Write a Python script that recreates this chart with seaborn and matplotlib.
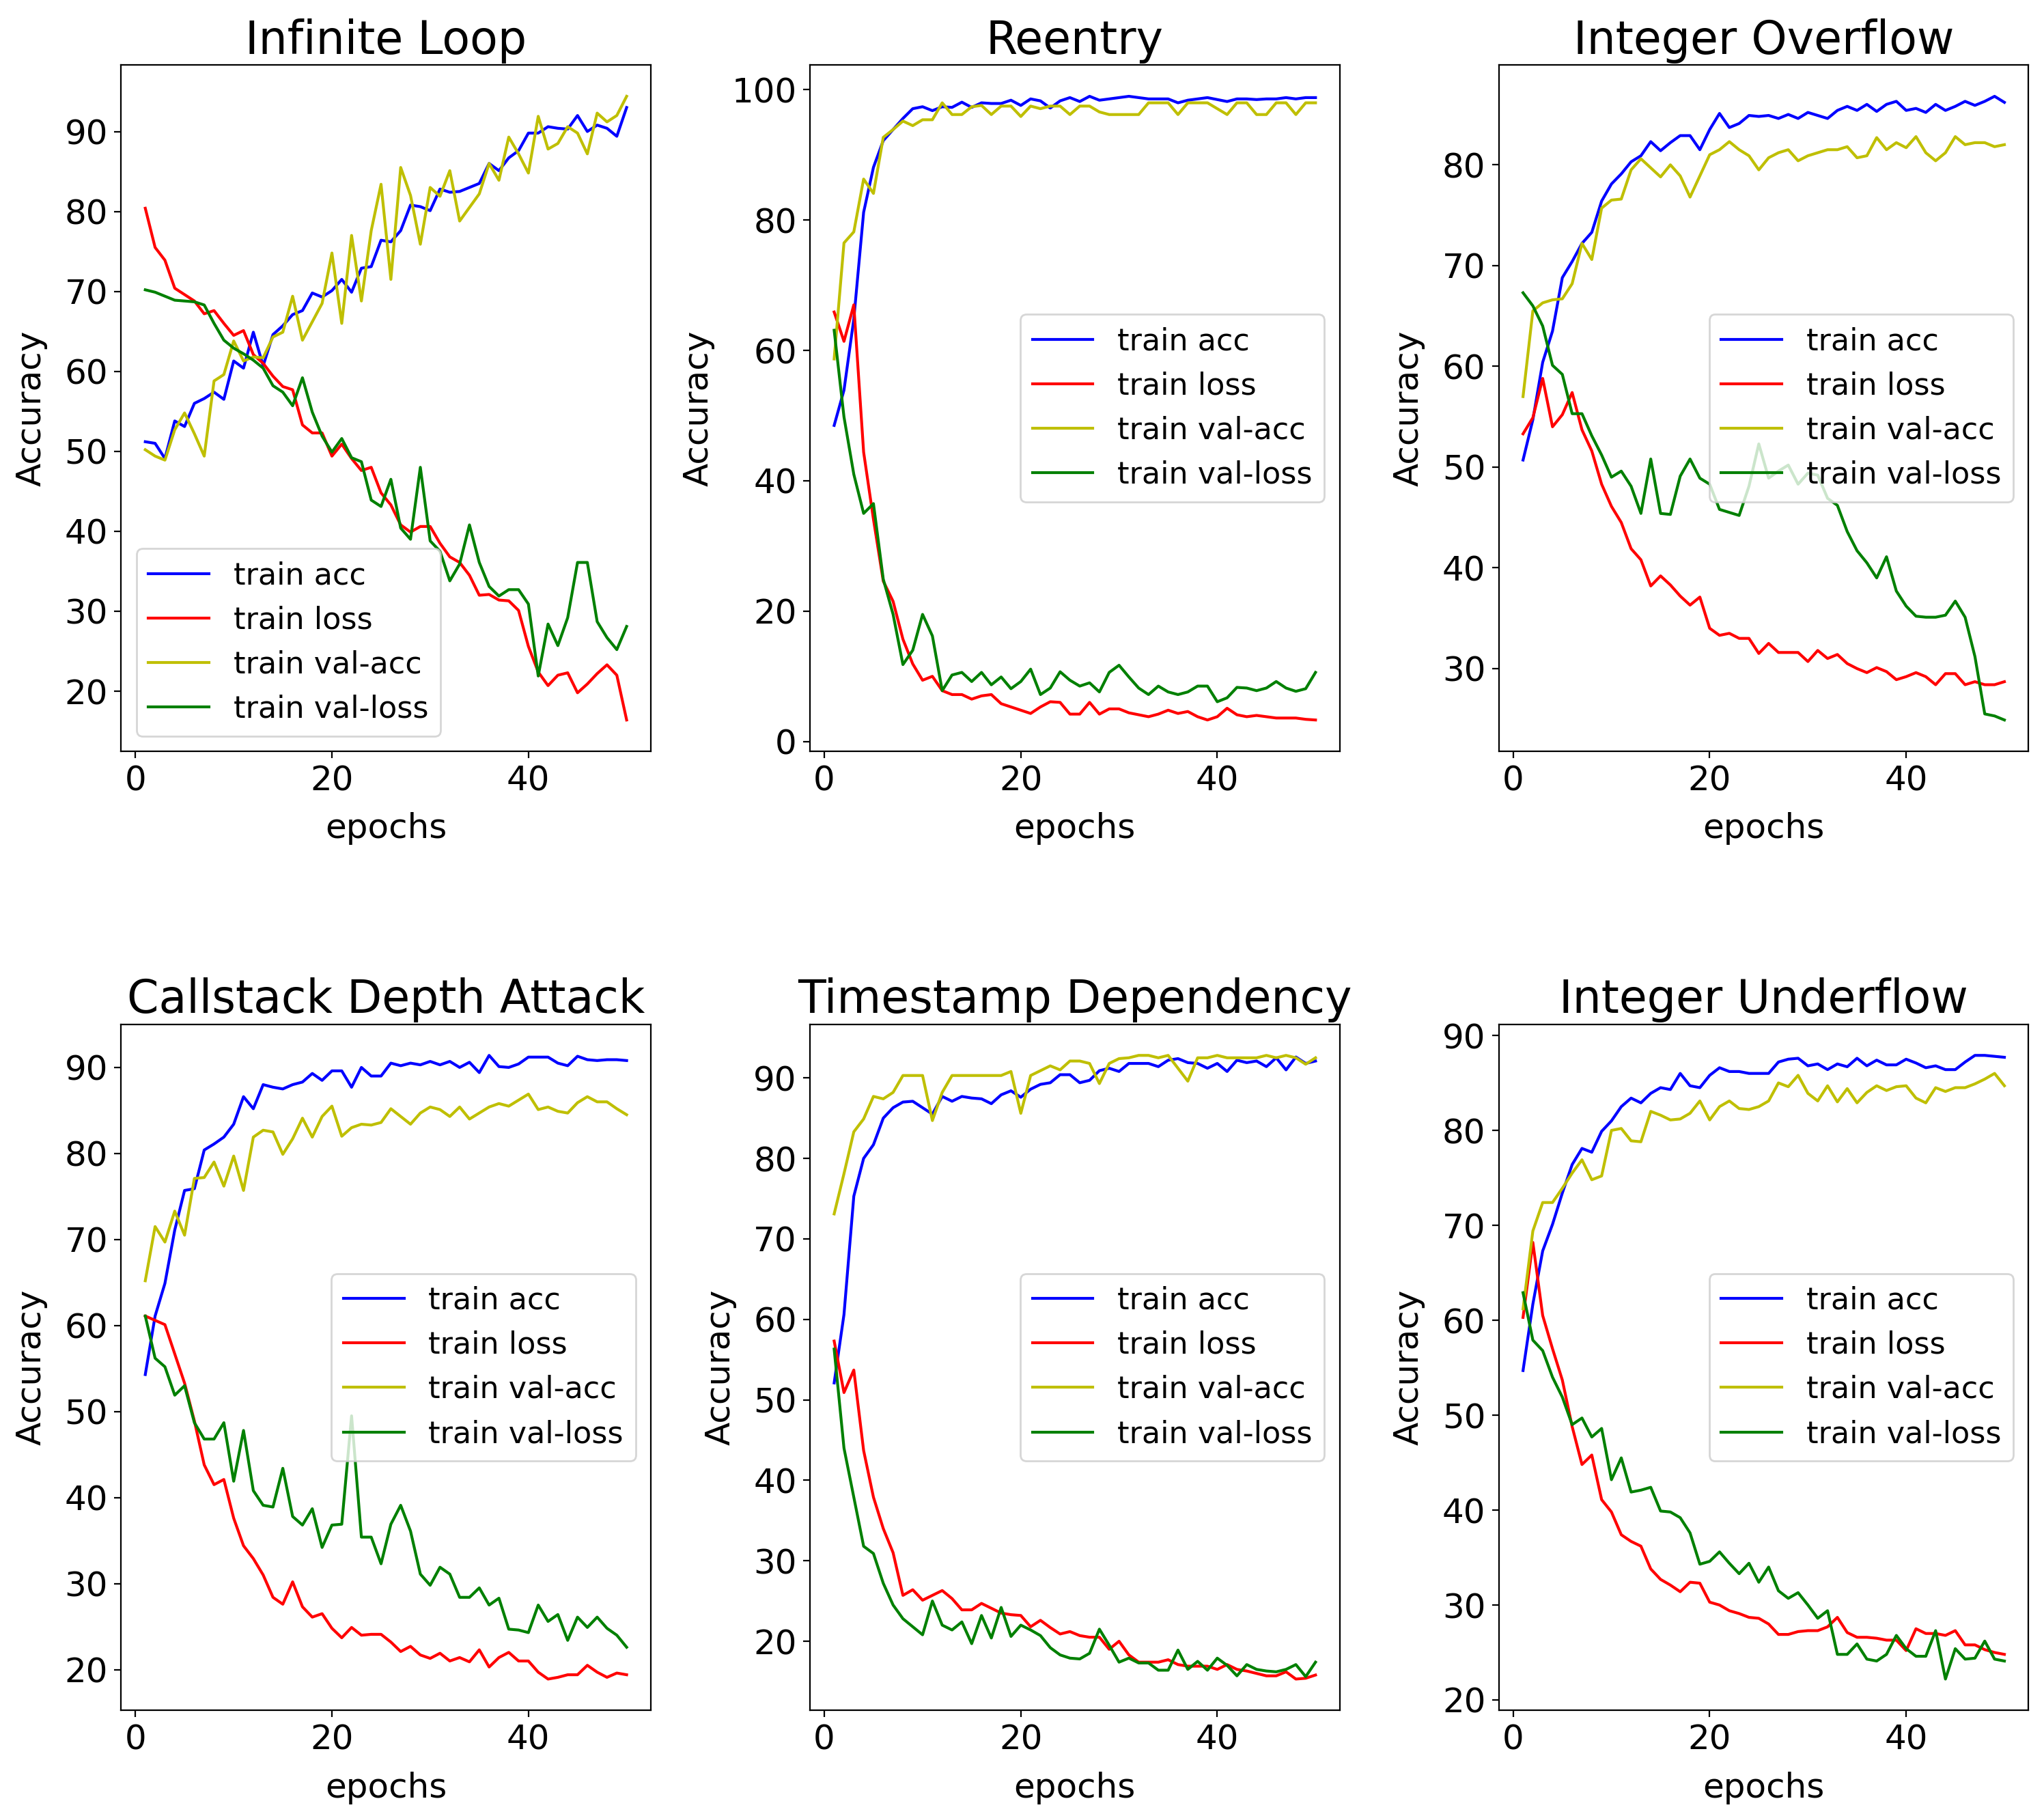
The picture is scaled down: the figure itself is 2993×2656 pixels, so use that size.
import matplotlib
matplotlib.use("Agg")
import matplotlib.pyplot as plt
import seaborn as sns

epochs = list(range(1, 51))

titles = ["Infinite Loop", "Reentry", "Integer Overflow",
          "Callstack Depth Attack", "Timestamp Dependency", "Integer Underflow"]
series_labels = ["train acc", "train loss", "train val-acc", "train val-loss"]

# Infinite Loop
il_acc = [51.2, 51.0, 49.1, 53.8, 53.1, 56.0, 56.6, 57.4, 56.5, 61.3,
          60.4, 64.9, 60.7, 64.6, 65.7, 67.1, 67.6, 69.8, 69.3, 70.1,
          71.5, 69.9, 72.9, 73.1, 76.4, 76.2, 77.6, 80.8, 80.6, 80.1,
          82.8, 82.4, 82.5, 83.0, 83.5, 86.0, 85.1, 86.7, 87.6, 89.8,
          89.8, 90.6, 90.4, 90.3, 92.0, 90.0, 90.8, 90.4, 89.4, 93.0]
il_loss = [80.4, 75.5, 73.9, 70.4, 69.6, 68.8, 67.2, 67.6, 66.0, 64.5,
           65.1, 62.1, 61.0, 59.4, 58.1, 57.7, 53.3, 52.3, 52.3, 49.4,
           50.9, 49.1, 47.6, 48.0, 44.8, 43.3, 40.8, 39.9, 40.6, 40.6,
           38.5, 36.8, 36.1, 34.5, 32.0, 32.1, 31.4, 31.3, 30.1, 25.6,
           22.4, 20.7, 22.0, 22.3, 19.8, 20.9, 22.2, 23.3, 22.0, 16.4]
il_val_acc = [50.2, 49.4, 48.9, 52.7, 54.8, 52.2, 49.4, 58.8, 59.6, 63.8,
              61.3, 61.8, 61.7, 64.3, 64.9, 69.4, 63.9, 66.2, 68.5, 74.8,
              66.0, 77.0, 68.8, 77.6, 83.4, 71.5, 85.5, 82.0, 75.9, 83.0,
              81.9, 85.1, 78.8, 80.5, 82.2, 86.0, 83.9, 89.3, 87.2, 84.8,
              91.9, 87.8, 88.5, 90.6, 89.8, 87.2, 92.3, 91.2, 92.0, 94.4]
il_val_loss = [70.2, 69.9, 69.4, 68.9, 68.8, 68.7, 68.3, 66.0, 63.9, 62.9,
               62.2, 61.4, 60.4, 58.2, 57.4, 55.7, 59.2, 54.9, 51.9, 49.9,
               51.6, 49.2, 48.7, 43.9, 43.1, 46.5, 40.4, 39.0, 48.0, 38.8,
               37.5, 33.8, 35.9, 40.8, 36.1, 33.1, 31.9, 32.7, 32.7, 30.9,
               21.9, 28.4, 25.7, 29.2, 36.1, 36.1, 28.7, 26.7, 25.2, 28.1]

# Reentry
re_acc = [48.5, 53.9, 64.8, 81.2, 88.1, 92.2, 93.9, 95.6, 97.1, 97.4,
          96.8, 97.4, 97.3, 98.1, 97.3, 98.0, 97.9, 97.9, 98.4, 97.6,
          98.6, 98.3, 97.2, 98.3, 98.8, 98.2, 99.0, 98.4, 98.6, 98.8,
          99.0, 98.8, 98.6, 98.6, 98.6, 98.0, 98.4, 98.6, 98.8, 98.5,
          98.2, 98.6, 98.6, 98.5, 98.6, 98.6, 98.8, 98.6, 98.8, 98.8]
re_loss = [65.9, 61.4, 67.0, 44.4, 34.1, 24.6, 21.5, 15.7, 11.9, 9.4,
           10.0, 7.8, 7.2, 7.2, 6.5, 7.0, 7.2, 5.8, 5.3, 4.8,
           4.3, 5.3, 6.1, 6.0, 4.2, 4.2, 6.0, 4.2, 5.0, 5.0,
           4.4, 4.1, 3.8, 4.2, 4.8, 4.3, 4.6, 3.8, 3.3, 3.8,
           5.1, 4.1, 3.8, 4.0, 3.8, 3.6, 3.6, 3.6, 3.4, 3.3]
re_val_acc = [58.7, 76.5, 78.2, 86.3, 84.1, 92.7, 93.9, 95.2, 94.5, 95.4,
              95.4, 98.0, 96.2, 96.2, 97.4, 97.6, 96.2, 97.5, 97.5, 95.9,
              97.5, 97.1, 97.5, 97.5, 96.2, 97.5, 97.5, 96.6, 96.2, 96.2,
              96.2, 96.2, 98.0, 98.0, 98.0, 96.2, 98.0, 98.0, 98.0, 97.1,
              96.2, 98.0, 98.0, 96.2, 96.2, 98.0, 98.0, 96.2, 98.0, 98.0]
re_val_loss = [63.1, 49.8, 41.0, 35.0, 36.5, 24.9, 19.5, 11.8, 14.0, 19.5,
               16.2, 7.8, 10.2, 10.6, 9.2, 10.6, 8.7, 9.9, 8.1, 9.2,
               11.1, 7.2, 8.2, 10.7, 9.4, 8.5, 9.0, 7.6, 10.6, 11.7,
               9.9, 8.2, 7.2, 8.5, 7.6, 7.2, 7.6, 8.5, 8.5, 6.1,
               6.7, 8.3, 8.2, 7.8, 8.2, 9.2, 8.2, 7.7, 8.1, 10.6]

# Integer Overflow
io_acc = [50.7, 54.7, 60.4, 63.5, 68.8, 70.4, 72.2, 73.3, 76.4, 78.1,
          79.1, 80.3, 80.9, 82.3, 81.4, 82.2, 82.9, 82.9, 81.5, 83.5,
          85.1, 83.7, 84.1, 84.9, 84.8, 84.9, 84.6, 85.0, 84.6, 85.2,
          84.9, 84.6, 85.4, 85.8, 85.4, 86.0, 85.3, 86.0, 86.3, 85.4,
          85.6, 85.2, 86.0, 85.4, 85.8, 86.3, 85.9, 86.3, 86.8, 86.2]
io_loss = [53.3, 54.9, 58.8, 54.0, 55.2, 57.4, 53.7, 51.6, 48.3, 46.1,
           44.5, 41.9, 40.8, 38.2, 39.2, 38.3, 37.2, 36.3, 37.1, 34.0,
           33.3, 33.5, 33.0, 33.0, 31.5, 32.5, 31.6, 31.6, 31.6, 30.7,
           31.8, 31.0, 31.4, 30.5, 30.0, 29.6, 30.1, 29.7, 28.9, 29.2,
           29.6, 29.2, 28.4, 29.5, 29.5, 28.4, 28.7, 28.4, 28.4, 28.7]
io_val_acc = [57.0, 65.5, 66.3, 66.6, 66.7, 68.2, 72.2, 70.6, 75.7, 76.5,
              76.6, 79.5, 80.6, 79.7, 78.8, 80.0, 78.9, 76.8, 78.9, 81.0,
              81.5, 82.3, 81.5, 80.9, 79.5, 80.7, 81.2, 81.5, 80.4, 80.9,
              81.2, 81.5, 81.5, 81.8, 80.7, 80.9, 82.7, 81.5, 82.2, 81.7,
              82.8, 81.2, 80.4, 81.2, 82.8, 82.0, 82.2, 82.2, 81.8, 82.0]
io_val_loss = [67.3, 66.0, 64.0, 60.1, 59.2, 55.3, 55.3, 53.1, 51.2, 49.0,
               49.6, 48.1, 45.4, 50.8, 45.4, 45.3, 49.1, 50.8, 48.9, 48.3,
               45.8, 45.5, 45.2, 48.1, 52.3, 48.9, 49.6, 50.2, 48.3, 49.4,
               49.2, 46.9, 46.2, 43.6, 41.7, 40.5, 39.0, 41.1, 37.7, 36.2,
               35.2, 35.1, 35.1, 35.3, 36.7, 35.1, 31.2, 25.5, 25.3, 24.9]

# Callstack Depth Attack
cd_acc = [54.3, 61.1, 64.9, 71.1, 75.7, 75.9, 80.4, 81.1, 81.9, 83.4,
          86.6, 85.2, 88.0, 87.7, 87.5, 88.0, 88.3, 89.3, 88.5, 89.6,
          89.6, 87.7, 90.0, 89.0, 89.0, 90.5, 90.2, 90.5, 90.3, 90.7,
          90.3, 90.7, 90.0, 90.6, 89.4, 91.4, 90.1, 90.0, 90.4, 91.2,
          91.2, 91.2, 90.5, 90.2, 91.3, 90.9, 90.8, 90.9, 90.9, 90.8]
cd_loss = [61.1, 60.6, 60.1, 56.7, 53.3, 48.9, 43.8, 41.5, 42.1, 37.6,
           34.4, 32.9, 31.0, 28.4, 27.6, 30.2, 27.3, 26.1, 26.5, 24.8,
           23.7, 24.9, 24.0, 24.1, 24.1, 23.2, 22.1, 22.7, 21.7, 21.3,
           21.9, 21.0, 21.4, 20.9, 22.3, 20.3, 21.4, 22.0, 21.0, 21.0,
           19.7, 18.9, 19.1, 19.4, 19.4, 20.5, 19.7, 19.1, 19.6, 19.4]
cd_val_acc = [65.2, 71.5, 69.7, 73.3, 70.5, 77.1, 77.2, 79.0, 76.2, 79.7,
              75.7, 81.9, 82.7, 82.5, 79.9, 81.7, 84.1, 81.9, 84.3, 85.5,
              82.0, 83.0, 83.4, 83.3, 83.6, 85.2, 84.3, 83.4, 84.7, 85.4,
              85.1, 84.3, 85.4, 84.0, 84.7, 85.4, 85.8, 85.5, 86.2, 86.9,
              85.1, 85.4, 84.9, 84.7, 85.9, 86.6, 86.0, 86.0, 85.2, 84.5]
cd_val_loss = [61.1, 56.2, 55.2, 51.9, 53.0, 48.7, 46.8, 46.8, 48.7, 41.9,
               47.8, 40.8, 39.1, 38.9, 43.4, 37.8, 36.8, 38.7, 34.2, 36.8,
               36.9, 49.5, 35.4, 35.4, 32.3, 36.9, 39.1, 36.1, 31.1, 29.8,
               31.9, 31.1, 28.4, 28.4, 29.5, 27.5, 28.3, 24.7, 24.6, 24.3,
               27.5, 25.6, 26.4, 23.4, 26.1, 24.9, 26.1, 24.8, 24.0, 22.6]

# Timestamp Dependency
td_acc = [52.1, 60.6, 75.3, 80.0, 81.7, 85.0, 86.3, 87.0, 87.1, 86.3,
          85.5, 87.7, 87.1, 87.7, 87.5, 87.4, 86.8, 87.9, 88.4, 87.6,
          88.6, 89.2, 89.4, 90.4, 90.4, 89.4, 89.7, 90.9, 91.2, 90.8,
          91.8, 91.8, 91.8, 91.4, 92.2, 92.4, 91.9, 91.8, 91.2, 91.8,
          90.8, 92.2, 91.9, 92.1, 91.4, 92.5, 91.0, 92.6, 91.8, 92.1]
td_loss = [57.3, 50.9, 53.7, 43.7, 37.9, 34.0, 31.0, 25.7, 26.4, 25.1,
           25.7, 26.3, 25.3, 23.9, 23.9, 24.7, 24.1, 23.5, 23.3, 23.2,
           21.8, 22.6, 21.7, 20.9, 21.2, 20.7, 20.5, 20.5, 19.0, 20.0,
           18.3, 17.4, 17.4, 17.4, 17.7, 17.1, 16.9, 16.9, 16.9, 16.5,
           17.1, 16.5, 16.3, 16.0, 15.7, 15.7, 16.2, 15.3, 15.4, 15.8]
td_val_acc = [73.1, 78.1, 83.3, 84.9, 87.7, 87.4, 88.2, 90.3, 90.3, 90.3,
              84.7, 88.2, 90.3, 90.3, 90.3, 90.3, 90.3, 90.3, 90.8, 85.6,
              90.3, 90.9, 91.5, 91.0, 92.1, 92.1, 91.8, 89.3, 91.8, 92.4,
              92.5, 92.8, 92.8, 92.5, 92.8, 91.2, 89.6, 92.5, 92.5, 92.8,
              92.5, 92.5, 92.5, 92.5, 92.8, 92.5, 92.8, 92.5, 91.7, 92.5]
td_val_loss = [56.3, 44.0, 37.9, 31.8, 30.9, 27.2, 24.5, 22.8, 21.8, 20.8,
               25.0, 22.0, 21.4, 22.4, 19.7, 23.2, 20.4, 24.2, 20.6, 22.0,
               21.4, 20.7, 19.2, 18.3, 17.9, 17.8, 18.5, 21.5, 19.5, 17.4,
               17.9, 17.3, 17.3, 16.4, 16.4, 18.9, 16.5, 17.5, 16.4, 17.9,
               17.0, 15.7, 17.1, 16.5, 16.3, 16.2, 16.5, 17.1, 15.6, 17.4]

# Integer Underflow
iu_acc = [54.7, 61.7, 67.3, 70.1, 73.4, 76.4, 78.1, 77.7, 79.9, 81.0,
          82.5, 83.4, 82.9, 83.9, 84.5, 84.3, 86.0, 84.7, 84.5, 85.8,
          86.6, 86.2, 86.2, 86.0, 86.0, 86.0, 87.2, 87.5, 87.6, 86.8,
          87.0, 86.4, 87.0, 86.7, 87.6, 86.8, 87.4, 86.9, 86.9, 87.5,
          87.1, 86.6, 86.8, 86.4, 86.4, 87.2, 87.9, 87.9, 87.8, 87.7]
iu_loss = [60.3, 68.2, 60.5, 57.0, 53.7, 48.8, 44.8, 45.8, 41.1, 39.8,
           37.4, 36.7, 36.2, 33.8, 32.7, 32.1, 31.4, 32.4, 32.3, 30.3,
           30.0, 29.4, 29.1, 28.7, 28.6, 28.0, 26.9, 26.9, 27.2, 27.3,
           27.3, 27.7, 28.7, 27.1, 26.6, 26.6, 26.5, 26.3, 26.3, 25.2,
           27.5, 27.0, 27.0, 26.8, 27.3, 25.8, 25.8, 25.3, 25.0, 24.8]
iu_val_acc = [61.2, 69.4, 72.4, 72.4, 73.9, 75.5, 76.9, 74.8, 75.2, 80.0,
              80.2, 78.9, 78.8, 82.0, 81.6, 81.1, 81.2, 81.8, 83.1, 81.1,
              82.5, 83.1, 82.3, 82.2, 82.5, 83.1, 85.0, 84.6, 85.8, 83.9,
              83.1, 84.7, 83.0, 84.4, 82.9, 84.0, 84.7, 84.2, 84.6, 84.7,
              83.4, 82.9, 84.5, 84.1, 84.5, 84.5, 84.9, 85.4, 86.0, 84.7]
iu_val_loss = [62.9, 57.9, 56.8, 54.0, 51.9, 49.0, 49.7, 47.7, 48.6, 43.2,
               45.5, 41.9, 42.1, 42.4, 39.9, 39.8, 39.2, 37.6, 34.3, 34.6,
               35.6, 34.4, 33.3, 34.4, 32.4, 34.0, 31.5, 30.7, 31.3, 30.0,
               28.6, 29.4, 24.8, 24.8, 25.9, 24.3, 24.1, 24.8, 26.8, 25.4,
               24.6, 24.6, 27.3, 22.2, 25.4, 24.3, 24.4, 26.2, 24.3, 24.1]

panels = [
    (il_acc, il_loss, il_val_acc, il_val_loss),
    (re_acc, re_loss, re_val_acc, re_val_loss),
    (io_acc, io_loss, io_val_acc, io_val_loss),
    (cd_acc, cd_loss, cd_val_acc, cd_val_loss),
    (td_acc, td_loss, td_val_acc, td_val_loss),
    (iu_acc, iu_loss, iu_val_acc, iu_val_loss),
]
legend_locs = ["lower left", "center right", "center right",
               "center right", "center right", "center right"]
colors = ["b", "r", "y", "g"]

fig, axes = plt.subplots(2, 3, figsize=(14.965, 13.28), dpi=200)
fig.subplots_adjust(left=0.0593, right=0.9924, bottom=0.0572, top=0.9641,
                    wspace=0.301, hspace=0.398)

for ax, title, series, loc in zip(axes.flat, titles, panels, legend_locs):
    for vals, lbl, col in zip(series, series_labels, colors):
        sns.lineplot(x=epochs, y=vals, ax=ax, color=col, label=lbl,
                     linewidth=1.5)
    ax.set_title(title, fontsize=24)
    ax.set_xlabel("epochs", fontsize=18, labelpad=8)
    ax.set_ylabel("Accuracy", fontsize=18, labelpad=9)
    ax.tick_params(labelsize=18)
    ax.legend(loc=loc, fontsize=16)

fig.savefig("out.png", dpi=200)
